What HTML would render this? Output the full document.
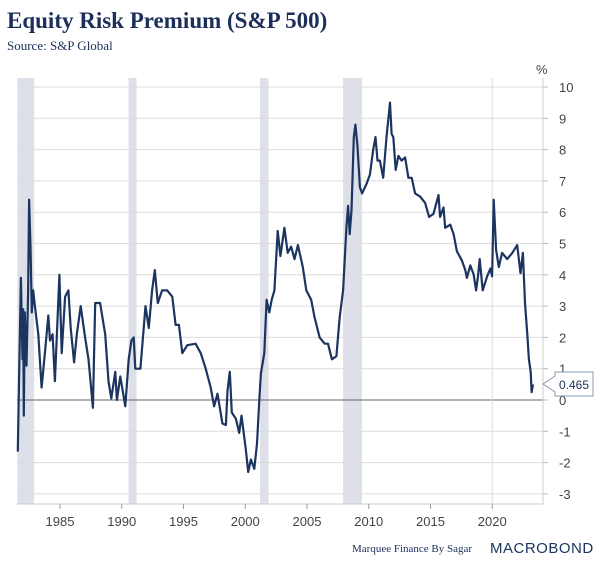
<!DOCTYPE html>
<html><head><meta charset="utf-8"><style>
body{margin:0;background:#fff;width:600px;height:567px;overflow:hidden;font-family:"Liberation Sans",sans-serif}
svg{display:block}
</style></head><body>
<svg width="600" height="567">
<text x="7" y="28" font-family="Liberation Serif" font-weight="bold" font-size="23" fill="#1c2f5a">Equity Risk Premium (S&amp;P 500)</text>
<text x="7" y="50" font-family="Liberation Serif" font-size="13" fill="#1c2f5a">Source: S&amp;P Global</text>
<g id="bands"></g>
<g id="grid"></g>
<g id="axes"></g>
<path id="line" fill="none" stroke="#1c3560" stroke-width="2.2" stroke-linejoin="round"/>
<text x="536" y="74" font-size="13" fill="#444">%</text>
<g>
<path d="M543,384 L555,376 L555,372 L593,372 L593,396 L555,396 L555,392 Z" fill="#fff" stroke="#8a98b4" stroke-width="1"/>
<text x="574" y="389" font-size="12" fill="#1c2f5a" text-anchor="middle">0.465</text>
</g>
<text x="352" y="552" font-family="Liberation Serif" font-size="11" fill="#1c2f5a">Marquee Finance By Sagar</text>
<text x="490" y="553" font-size="15" fill="#1c3560" letter-spacing="0.5">MACROBOND</text>
</svg>
<script>
const years=[1981.58,1981.66,1981.83,1981.96,1982.02,1982.07,1982.15,1982.29,1982.42,1982.50,1982.61,1982.72,1982.83,1982.97,1983.24,1983.51,1983.78,1984.05,1984.19,1984.40,1984.59,1984.95,1985.14,1985.41,1985.68,1985.87,1986.14,1986.36,1986.68,1987.03,1987.31,1987.66,1987.85,1988.25,1988.66,1988.93,1989.15,1989.48,1989.61,1989.88,1990.29,1990.56,1990.78,1990.97,1991.10,1991.51,1991.92,1992.19,1992.46,1992.68,1992.92,1993.27,1993.68,1994.09,1994.36,1994.63,1994.90,1995.31,1995.98,1996.39,1996.80,1997.20,1997.48,1997.75,1998.15,1998.43,1998.56,1998.75,1998.91,1999.24,1999.51,1999.70,2000.05,2000.24,2000.46,2000.73,2000.95,2001.14,2001.27,2001.54,2001.73,2001.95,2002.14,2002.36,2002.63,2002.85,2003.17,2003.44,2003.71,2003.99,2004.26,2004.66,2004.94,2005.34,2005.61,2006.02,2006.43,2006.70,2007.02,2007.38,2007.65,2007.92,2008.19,2008.33,2008.46,2008.60,2008.79,2008.92,2009.09,2009.28,2009.46,2009.82,2010.09,2010.36,2010.55,2010.71,2010.90,2011.17,2011.44,2011.72,2011.85,2011.99,2012.18,2012.40,2012.66,2012.94,2013.21,2013.48,2013.75,2014.15,2014.56,2014.89,2015.24,2015.65,2015.78,2016.05,2016.19,2016.60,2016.87,2017.14,2017.55,2017.82,2017.95,2018.22,2018.50,2018.69,2018.85,2018.98,2019.23,2019.58,2019.85,2019.99,2020.12,2020.31,2020.53,2020.80,2021.21,2021.62,2022.02,2022.29,2022.48,2022.65,2022.84,2022.97,2023.11,2023.19,2023.30];
const values=[-1.65,0.2,3.9,1.3,2.9,-0.5,2.8,1.1,3.4,6.4,4.9,2.8,3.5,3.0,2.1,0.4,1.5,2.7,1.9,2.1,0.6,4.0,1.5,3.3,3.5,2.3,1.2,2.1,3.0,2.0,1.3,-0.25,3.1,3.1,2.1,0.6,0.05,0.9,0,0.75,-0.2,1.3,1.9,2.0,1.0,1.0,3.0,2.3,3.5,4.15,3.1,3.5,3.5,3.3,2.4,2.4,1.5,1.75,1.8,1.5,1.0,0.4,-0.2,0.2,-0.75,-0.8,0.3,0.9,-0.4,-0.6,-1.05,-0.5,-1.6,-2.3,-1.9,-2.2,-1.4,0,0.85,1.5,3.2,2.8,3.2,3.5,5.4,4.6,5.5,4.7,4.9,4.5,4.95,4.25,3.5,3.2,2.65,2.0,1.8,1.8,1.3,1.4,2.65,3.5,5.5,6.2,5.3,6.05,8.4,8.8,8.1,6.8,6.6,6.9,7.2,8.0,8.4,7.65,7.65,7.1,8.4,9.5,8.5,8.4,7.35,7.8,7.65,7.75,7.1,7.1,6.6,6.5,6.3,5.85,5.95,6.55,5.85,6.15,5.5,5.6,5.3,4.75,4.45,4.15,3.9,4.3,4.0,3.5,3.95,4.5,3.5,3.95,4.2,3.95,6.4,4.8,4.25,4.7,4.5,4.7,4.95,4.05,4.7,3.1,2.1,1.3,0.9,0.25,0.5];
const yTicks=[10,9,8,7,6,5,4,3,2,1,0,-1,-2,-3];
const xTicks=[1985,1990,1995,2000,2005,2010,2015,2020];
const recStart=[1981.55,1990.55,2001.2,2007.92];
const recEnd=[1982.9,1991.2,2001.88,2009.45];
const L=17,R=543,T=78,B=504;
const X=t=>60+(t-1985)*12.35;
const Y=v=>400-v*31.3;
const NS='http://www.w3.org/2000/svg';
function mk(tag,attrs,parent){const e=document.createElementNS(NS,tag);for(const k in attrs)e.setAttribute(k,attrs[k]);parent.appendChild(e);return e;}
const bands=document.getElementById('bands'),grid=document.getElementById('grid'),axes=document.getElementById('axes');
for(let i=0;i<recStart.length;i++){
 const r=mk('rect',{x:X(recStart[i]),y:T,width:X(recEnd[i])-X(recStart[i]),height:B-T,fill:'#dde0e8'},bands);
 
 
}
yTicks.forEach(v=>{
 const l=mk('line',{x1:L,x2:R,y1:Y(v),y2:Y(v),stroke:v===0?'#666':'#dcdcdc','stroke-width':1},grid);
 
 
 mk('line',{x1:R,x2:R+5,y1:Y(v),y2:Y(v),stroke:'#bbb'},axes);
 const t=mk('text',{x:R+16,y:Y(v)+5,'font-size':13,fill:'#444','text-anchor':v<0?'start':'start'},axes);
 t.textContent=v;
 
 
});
const vg=mk('line',{x1:X(2020),x2:X(2020),y1:T,y2:B,stroke:'#dcdcdc'},grid);


mk('line',{x1:R,x2:R,y1:T,y2:B,stroke:'#ccc'},axes);
mk('line',{x1:L,x2:R,y1:B,y2:B,stroke:'#ccc'},axes);
xTicks.forEach(y=>{
 mk('line',{x1:X(y),x2:X(y),y1:B,y2:B+5,stroke:'#999'},axes);
 const t=mk('text',{x:X(y),y:B+22,'font-size':13,fill:'#444','text-anchor':'middle'},axes);
 t.textContent=y;
 
 
});
document.getElementById('line').setAttribute('d',years.map((t,i)=>(i?'L':'M')+X(t).toFixed(1)+','+Y(values[i]).toFixed(1)).join(''));
</script>
</body></html>
